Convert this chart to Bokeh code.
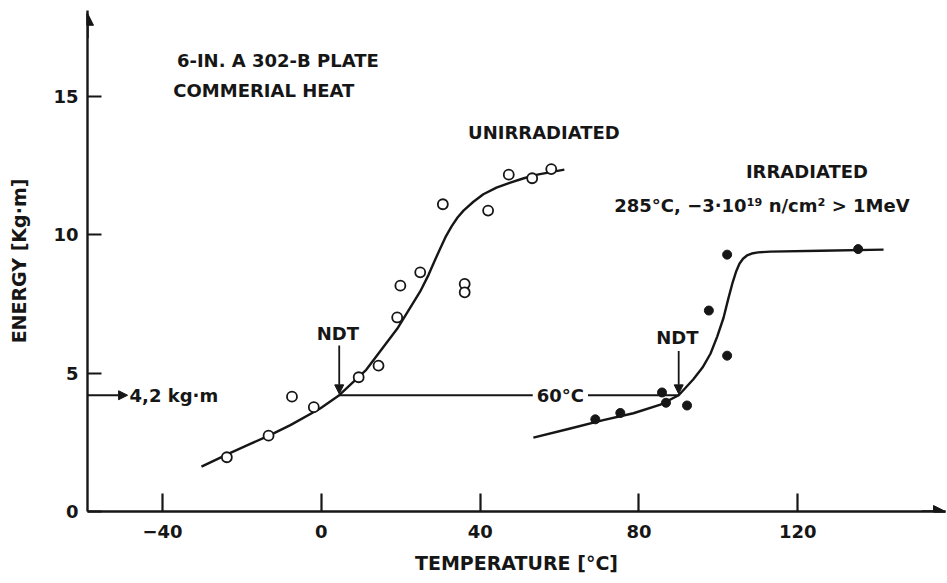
from bokeh.plotting import figure
from bokeh.models import ColumnDataSource, Range1d, FixedTicker, Arrow, NormalHead, Label
from bokeh.core.properties import value
from bokeh.embed import file_html
from bokeh.resources import INLINE

FONT = "DejaVu Sans"
INK = "#161616"

# Charpy impact energy of the unirradiated plate (open circles)
unirr_temp = [-23.8, -13.3, -7.4, -1.9, 9.4, 14.4, 19.1, 19.9, 24.9, 30.6, 36.1, 36.1, 42.0, 47.2, 53.1, 57.9]
unirr_energy = [1.96, 2.74, 4.15, 3.77, 4.85, 5.27, 7.01, 8.16, 8.64, 11.10, 8.22, 7.92, 10.87, 12.17, 12.04, 12.37]

# Charpy impact energy after irradiation (filled circles)
irr_temp = [69.0, 75.3, 85.8, 86.8, 92.1, 97.6, 102.2, 102.2, 135.2]
irr_energy = [3.33, 3.56, 4.30, 3.93, 3.83, 7.26, 5.63, 9.28, 9.48]

# Faired transition curves
unirr_fit_temp = [-30.2, -22.9, -17.9, -12.8, -7.8, -0.3, 4.5, 11.3, 19.1, 24.9, 27.0, 28.6, 30.0,
                  31.4, 32.8, 34.3, 35.8, 38.3, 40.8, 44.1, 47.6, 51.0, 54.4, 61.2]
unirr_fit_energy = [1.62, 2.12, 2.44, 2.77, 3.12, 3.72, 4.20, 5.12, 6.60, 7.95, 8.55, 9.08, 9.52,
                    9.95, 10.30, 10.62, 10.87, 11.19, 11.46, 11.70, 11.88, 12.04, 12.17, 12.35]
irr_fit_temp = [53.4, 62.7, 71.0, 78.6, 85.4, 90.0, 93.7, 96.0, 98.0, 99.7, 101.3, 102.5,
                103.6, 104.5, 105.3, 106.2, 107.2, 108.4, 110.0, 113.1, 125.7, 141.6]
irr_fit_energy = [2.67, 3.00, 3.30, 3.55, 3.86, 4.20, 4.78, 5.20, 5.70, 6.32, 7.00, 7.69,
                  8.28, 8.68, 8.95, 9.13, 9.25, 9.32, 9.36, 9.39, 9.42, 9.46]

# Nil-ductility transition temperatures and the energy that defines them
ndt_energy = 4.2
ndt_unirr_temp = 4.5
ndt_irr_temp = 90.0

x_ticks = [-40, 0, 40, 80, 120]
y_ticks = [0, 5, 10, 15]
x_min, x_max = -58.9, 157.2
y_min, y_max = 0.0, 18.1

p = figure(width=947, height=583, output_backend="svg", toolbar_location=None,
           x_range=Range1d(x_min, x_max), y_range=Range1d(y_min, y_max),
           min_border_left=87, min_border_right=2, min_border_top=10, min_border_bottom=72)
p.background_fill_color = "white"
p.border_fill_color = "white"
p.outline_line_color = None
p.grid.visible = False

xa = p.xaxis[0]
xa.ticker = FixedTicker(ticks=x_ticks)
xa.axis_label = "TEMPERATURE [°C]"
xa.major_tick_in = 18
xa.major_tick_out = 0
xa.major_label_standoff = 13
xa.axis_label_standoff = 11

ya = p.yaxis[0]
ya.ticker = FixedTicker(ticks=y_ticks)
ya.axis_label = "ENERGY [Kg·m]"
ya.major_tick_in = 14
ya.major_tick_out = 0
ya.major_label_standoff = 9
ya.axis_label_standoff = 20

for ax in (xa, ya):
    ax.minor_tick_line_color = None
    ax.axis_line_width = 2.4
    ax.axis_line_color = INK
    ax.major_tick_line_width = 2.2
    ax.major_tick_line_color = INK
    ax.major_label_text_font = FONT
    ax.major_label_text_font_size = "18px"
    ax.major_label_text_font_style = "bold"
    ax.major_label_text_color = INK
    ax.axis_label_text_font = FONT
    ax.axis_label_text_font_size = "19px"
    ax.axis_label_text_font_style = "bold"
    ax.axis_label_text_color = INK

# axis arrowheads
p.add_layout(Arrow(end=NormalHead(size=12, fill_color=INK, line_color=INK, line_width=1),
                   x_start=x_min, y_start=y_max - 1.0, x_end=x_min, y_end=y_max - 0.1,
                   line_color=INK, line_width=2.4))
p.add_layout(Arrow(end=NormalHead(size=12, fill_color=INK, line_color=INK, line_width=1),
                   x_start=x_max - 6, y_start=y_min, x_end=x_max, y_end=y_min,
                   line_color=INK, line_width=2.4))

# transition curves
p.line(unirr_fit_temp, unirr_fit_energy, line_color=INK, line_width=2.4, line_join="round")
p.line(irr_fit_temp, irr_fit_energy, line_color=INK, line_width=2.4, line_join="round")

# NDT energy level and the shift between the two NDTs
p.segment(x0=[ndt_unirr_temp], y0=[ndt_energy], x1=[ndt_irr_temp], y1=[ndt_energy],
          line_color=INK, line_width=2.2)
p.add_layout(Arrow(end=NormalHead(size=9, fill_color=INK, line_color=INK, line_width=1),
                   x_start=x_min, y_start=ndt_energy, x_end=-48.8, y_end=ndt_energy,
                   line_color=INK, line_width=2.2))
for t, top in ((ndt_unirr_temp, 6.0), (ndt_irr_temp, 5.8)):
    p.add_layout(Arrow(end=NormalHead(size=9, fill_color=INK, line_color=INK, line_width=1),
                       x_start=t, y_start=top, x_end=t, y_end=ndt_energy + 0.05,
                       line_color=INK, line_width=1.8))

# measured points
p.scatter(unirr_temp, unirr_energy, marker="circle", size=10, fill_color="white",
          line_color=INK, line_width=1.8)
p.scatter(irr_temp, irr_energy, marker="circle", size=9, fill_color=INK,
          line_color=INK, line_width=1)

# captions
captions = ColumnDataSource(dict(
    text=["6-IN. A 302-B PLATE", "COMMERIAL HEAT", "UNIRRADIATED", "IRRADIATED",
          "285°C, −3·10¹⁹ n/cm² > 1MeV", "NDT", "NDT"],
    x=[-10.96, -14.48, 56.05, 122.3, 110.96, 4.16, 89.67],
    y=[16.28, 15.2, 13.68, 12.27, 11.05, 6.43, 6.28],
))
p.text(x="x", y="y", text="text", source=captions, text_align="center",
       text_baseline="middle", text_font=value(FONT), text_font_size="18px",
       text_font_style="bold", text_color=INK)

p.text(x=[-48.3], y=[ndt_energy], text=["4,2 kg·m"], text_align="left",
       text_baseline="middle", text_font=value(FONT), text_font_size="18px",
       text_font_style="bold", text_color=INK)

p.add_layout(Label(x=60.2, y=ndt_energy, text="60°C", text_align="center",
                   text_baseline="middle", text_font=FONT, text_font_size="18px",
                   text_font_style="bold", text_color=INK,
                   background_fill_color="white", padding=4))

open("out.html", "w").write(file_html(p, INLINE))
